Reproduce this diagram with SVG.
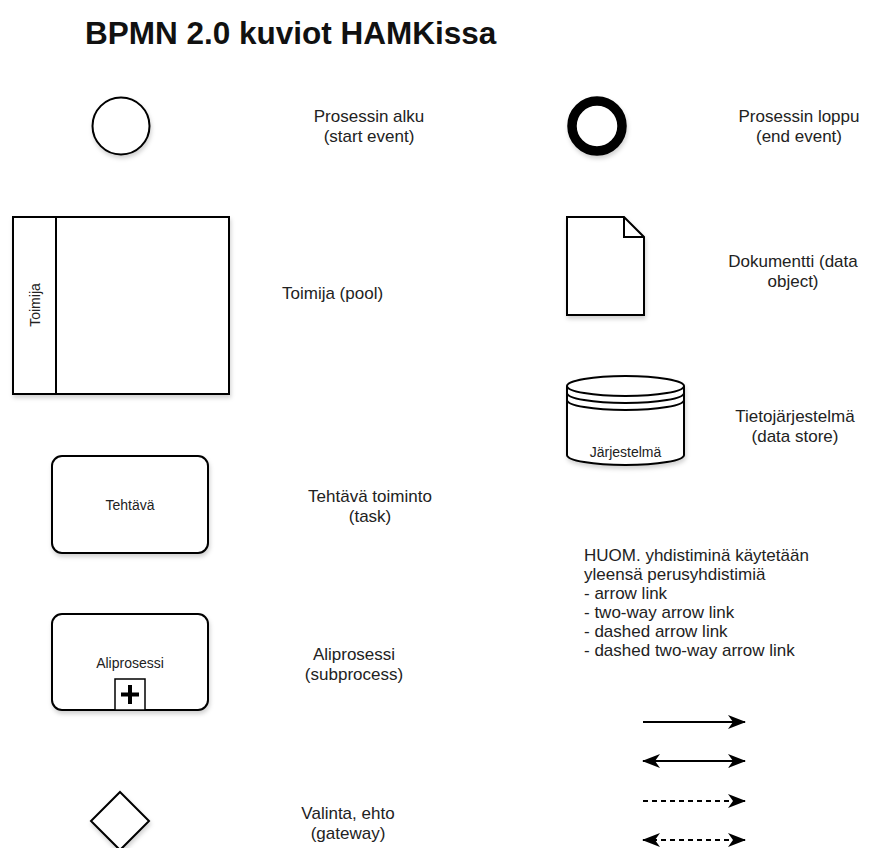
<svg xmlns="http://www.w3.org/2000/svg" width="877" height="848" viewBox="0 0 877 848">
<style>
.shape{fill:#fff;stroke:#000;stroke-width:2}
.lbl{font-family:"Liberation Sans",Arial,sans-serif;font-size:17px;fill:#222;text-anchor:middle}
.in{font-family:"Liberation Sans",Arial,sans-serif;font-size:14px;fill:#222;text-anchor:middle}
.note{font-family:"Liberation Sans",Arial,sans-serif;font-size:17px;fill:#222}
.title{font-family:"Liberation Sans",Arial,sans-serif;font-size:31.5px;font-weight:bold;fill:#111}
.conn{stroke:#000;stroke-width:2.2;fill:none}
.dash{stroke-dasharray:5 4}
</style>
<defs>
<filter id="sh" x="-20%" y="-20%" width="140%" height="150%">
<feDropShadow dx="1" dy="3" stdDeviation="2" flood-color="#000" flood-opacity="0.18"/>
</filter>
<marker id="ae" viewBox="0 0 18 14" refX="17" refY="7" markerWidth="18" markerHeight="14" markerUnits="userSpaceOnUse" orient="auto">
<path d="M0,0 L18,7 L0,14 L5,7 Z" fill="#000"/>
</marker>
<marker id="as" viewBox="0 0 18 14" refX="1" refY="7" markerWidth="18" markerHeight="14" markerUnits="userSpaceOnUse" orient="auto">
<path d="M18,0 L0,7 L18,14 L13,7 Z" fill="#000"/>
</marker>
</defs>
<rect width="877" height="848" fill="#fff"/>
<text class="title" x="85" y="44">BPMN 2.0 kuviot HAMKissa</text>

<g id="start-event">
<circle class="shape" cx="121" cy="126" r="28.5" filter="url(#sh)"/>
<text class="lbl" x="369" y="122">Prosessin alku</text>
<text class="lbl" x="369" y="142">(start event)</text>
</g>

<g id="end-event">
<circle cx="597" cy="126" r="25" fill="#fff" stroke="#000" stroke-width="9.5" filter="url(#sh)"/>
<text class="lbl" x="799" y="122">Prosessin loppu</text>
<text class="lbl" x="799" y="142">(end event)</text>
</g>

<g id="pool">
<rect class="shape" x="13" y="217" width="216" height="177" filter="url(#sh)"/>
<line x1="56" y1="217" x2="56" y2="394" stroke="#000" stroke-width="2"/>
<text class="in" transform="translate(35,305) rotate(-90)" y="5">Toimija</text>
<text class="note" x="282" y="299">Toimija (pool)</text>
</g>

<g id="data-object">
<path class="shape" d="M567,217 H624 L644,237 V315 H567 Z" filter="url(#sh)"/>
<path class="shape" style="fill:none" d="M624,217 V237 H644"/>
<text class="lbl" x="793" y="267">Dokumentti (data</text>
<text class="lbl" x="793" y="287">object)</text>
</g>

<g id="data-store">
<path class="shape" d="M567,386 A58.5,10 0 0 1 684,386 V455 A58.5,10 0 0 1 567,455 Z" filter="url(#sh)"/>
<path class="shape" style="fill:none" d="M567,386 A58.5,10 0 0 0 684,386 M567,393 A58.5,10 0 0 0 684,393 M567,400 A58.5,10 0 0 0 684,400"/>
<text class="in" x="625.5" y="457">Järjestelmä</text>
<text class="lbl" x="795" y="422">Tietojärjestelmä</text>
<text class="lbl" x="795" y="442">(data store)</text>
</g>

<g id="task">
<rect class="shape" x="52" y="456" width="156" height="97" rx="10" filter="url(#sh)"/>
<text class="in" x="130" y="510">Tehtävä</text>
<text class="lbl" x="370" y="502">Tehtävä toiminto</text>
<text class="lbl" x="370" y="522">(task)</text>
</g>

<g id="subprocess">
<rect class="shape" x="52" y="614" width="156" height="96" rx="10" filter="url(#sh)"/>
<text class="in" x="130" y="668">Aliprosessi</text>
<rect x="115" y="679" width="30" height="31" fill="#fff" stroke="#000" stroke-width="1.5"/>
<path d="M121,694.5 H139 M130,685 V704" stroke="#000" stroke-width="4" fill="none"/>
<text class="lbl" x="354" y="660">Aliprosessi</text>
<text class="lbl" x="354" y="680">(subprocess)</text>
</g>

<g id="gateway">
<path class="shape" d="M120,792 L149,821 L120,850 L91,821 Z" filter="url(#sh)"/>
<text class="lbl" x="348" y="819">Valinta, ehto</text>
<text class="lbl" x="348" y="839">(gateway)</text>
</g>

<g id="note">
<text class="note" x="584" y="561">HUOM. yhdistiminä käytetään</text>
<text class="note" x="584" y="580">yleensä perusyhdistimiä</text>
<text class="note" x="584" y="599">- arrow link</text>
<text class="note" x="584" y="618">- two-way arrow link</text>
<text class="note" x="584" y="637">- dashed arrow link</text>
<text class="note" x="584" y="656">- dashed two-way arrow link</text>
</g>

<g id="connectors">
<line class="conn" x1="643" y1="722" x2="745" y2="722" marker-end="url(#ae)"/>
<line class="conn" x1="643" y1="761" x2="745" y2="761" marker-start="url(#as)" marker-end="url(#ae)"/>
<line class="conn dash" x1="643" y1="801" x2="745" y2="801" marker-end="url(#ae)"/>
<line class="conn dash" x1="643" y1="840" x2="745" y2="840" marker-start="url(#as)" marker-end="url(#ae)"/>
</g>
</svg>
